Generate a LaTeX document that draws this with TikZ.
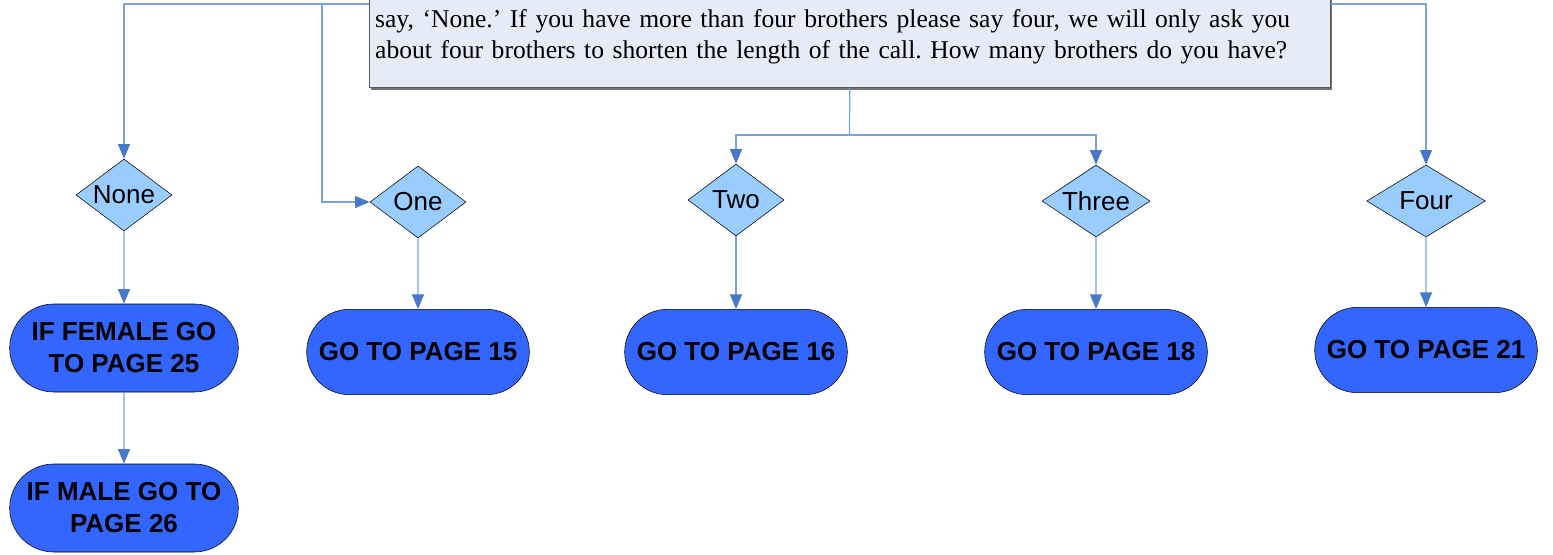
\documentclass[tikz,border=0pt]{standalone}
\usepackage{fontspec}
\setmainfont{Liberation Serif}
\setsansfont{Liberation Sans}
\usetikzlibrary{shapes.geometric,shapes.misc,arrows.meta,shadows}
\frenchspacing

\definecolor{qfill}{HTML}{E6ECF7}
\definecolor{qdraw}{HTML}{5A5A5A}
\definecolor{linkline}{HTML}{7EA3D8}
\definecolor{linktip}{HTML}{4A78C8}
\definecolor{choicefill}{HTML}{99CCFF}
\definecolor{pagefill}{HTML}{3366FF}

\begin{document}
\begin{tikzpicture}[x=0.75pt,y=-0.75pt,
  question/.style={draw=qdraw,fill=qfill,anchor=south west,text width=712pt,align=left,
    inner xsep=4.4pt,inner ysep=18pt,font=\fontsize{19.2}{23.25}\selectfont,
    drop shadow={shadow xshift=1.5pt,shadow yshift=-1.5pt,fill=black!55,opacity=1}},
  choice/.style={diamond,aspect=1.33,draw=black,fill=choicefill,inner sep=0pt,minimum width=72pt,
    minimum height=54pt,font=\sffamily\fontsize{19.5}{22}\selectfont},
  page/.style={rounded rectangle,draw=black,fill=pagefill,minimum width=171pt,minimum height=64pt,
    inner sep=2pt,align=center,font=\sffamily\bfseries\fontsize{19.5}{24}\selectfont},
  link/.style={draw=linkline,line width=0.9pt,-{Triangle[length=11pt,width=9pt,color=linktip]}},
  line/.style={draw=linkline,line width=0.9pt}]
\useasboundingbox (0,0) rectangle (1553,554);

% Question box
\node [question] (question) at (369,88) {say, ‘None.’ If you have more than four brothers please say four, we will only ask you\\
about four brothers to shorten the length of the call. How many brothers do you have?};

% Answers
\node [choice] (none) at (124,195) {None};
\node [choice] (one) at (418,202) {One};
\node [choice] (two) at (736,200) {Two};
\node [choice,minimum width=81pt] (three) at (1096,201) {Three};
\node [choice,minimum width=89pt] (four) at (1426,201) {Four};

% Pages
\node [page,minimum width=175.5pt,minimum height=66pt] (female) at (124,348) {IF FEMALE GO\\TO PAGE 25};
\node [page,minimum width=175.5pt,minimum height=66pt] (male) at (124,508) {IF MALE GO TO\\PAGE 26};
\node [page] (p15) at (418,352) {GO TO PAGE 15};
\node [page] (p16) at (736,352) {GO TO PAGE 16};
\node [page] (p18) at (1096,352) {GO TO PAGE 18};
\node [page] (p21) at (1426,350) {GO TO PAGE 21};

% Corner points
\coordinate (split) at (322,4);
\coordinate (fork) at (849.5,135);

% Connectors
\draw [link] (question.west |- split) -| (none.north);
\draw [link] (split) |- (one.west);
\draw [link] (question.east |- split) -| (four.north);
\draw [line] (question.south) -- (fork);
\draw [link] (fork) -| (two.north);
\draw [link] (fork) -| (three.north);

\draw [link] (none) -- (female);
\draw [link] (female) -- (male);
\draw [link] (one) -- (p15);
\draw [link] (two) -- (p16);
\draw [link] (three) -- (p18);
\draw [link] (four) -- (p21);

\end{tikzpicture}
\end{document}
